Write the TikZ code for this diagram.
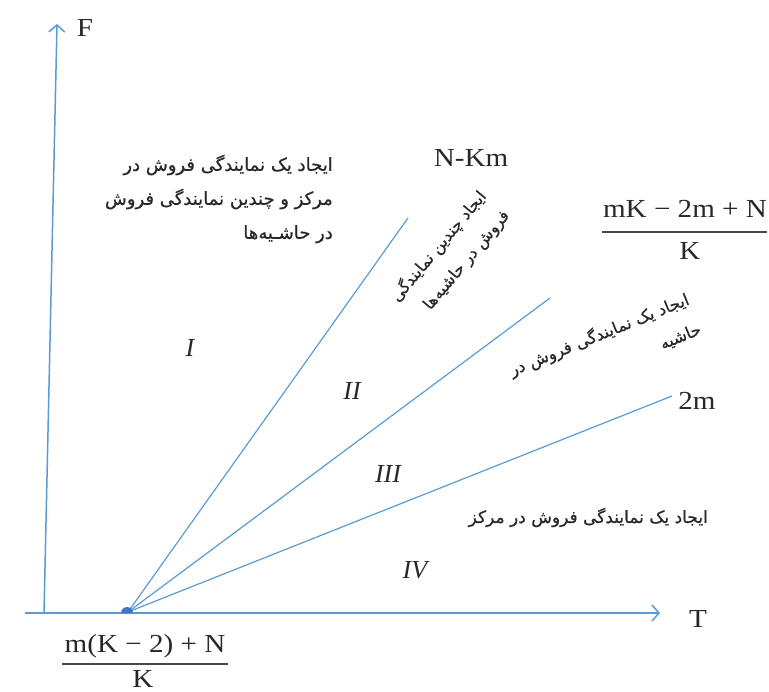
\documentclass[tikz,border=0pt]{standalone}
\usepackage{fontspec}
\setmainfont{Liberation Serif}
\newfontfamily\cam[FakeStretch=1.12]{Liberation Serif}
\newfontfamily\fa[Script=Arabic,FakeBold=0.6]{DejaVu Sans}
\TeXXeTstate=1
\usetikzlibrary{arrows.meta}
\definecolor{ax}{RGB}{91,155,213}
\definecolor{dot}{RGB}{68,114,196}
\definecolor{ink}{RGB}{40,40,40}
\tikzset{
 axis/.style={draw=ax, line width=1.5pt, -{Straight Barb[length=7pt,width=16pt,line width=1.5pt]}},
 ray/.style={draw=ax, line width=1.2pt},
 lat/.style={font=\cam\fontsize{26}{30}\selectfont, text=ink, inner sep=0pt, anchor=base},
 rom/.style={font=\fontsize{26}{30}\selectfont\itshape, text=ink, inner sep=0pt, anchor=base},
 fa/.style={font=\fa\fontsize{18}{34}\selectfont, text=ink, inner sep=0pt, align=right},
 fbar/.style={draw=ink!85, line width=2.5pt},
}
\begin{document}
\begin{tikzpicture}[x=1pt,y=-1pt]
\useasboundingbox (0,0) rectangle (769,692);
% axes
\coordinate (Fb) at (44,613);
\coordinate (Ft) at (57,24);
\coordinate (Tl) at (25,613);
\coordinate (Tr) at (660,613);
\draw[axis] (Tl) -- (Tr);
\draw[axis] (Fb) -- (Ft);
% rays
\coordinate (O) at (128,612);
\coordinate (E1) at (408,218);
\coordinate (E2) at (550,298);
\coordinate (E3) at (672,396);
\draw[ray] (O) -- (E1);
\draw[ray] (O) -- (E2);
\draw[ray] (O) -- (E3);
\fill[dot] (121,613) arc[start angle=180,end angle=360,radius=6] -- cycle;
% axis labels
\node[lat] (F) at (85,37) {F};
\node[lat] (T) at (698,627) {T};
\node[lat] (nkm) at (471,167) {N-Km};
\node[lat] (twom) at (697,410) {2m};
% right fraction
\node[lat] (rnum) at (685,218) {mK − 2m + N};
\draw[fbar] (602,232) -- (767,232);
\node[lat] (rden) at (690,260) {K};
% bottom fraction
\node[lat] (bnum) at (145,652) {m(K − 2) + N};
\draw[fbar] (62,664) -- (228,664);
\node[lat] (bden) at (143,687) {K};
% regions
\node[rom] (r1) at (190,357) {I};
\node[rom] (r2) at (352,400) {II};
\node[rom] (r3) at (388,483) {III};
\node[rom] (r4) at (415,579) {IV};
% persian texts
\node[fa, anchor=east] (t1) at (333,199) {\beginR ایجاد یک نمایندگی فروش در\endR\\ \beginR مرکز و چندین نمایندگی فروش\endR\\ \beginR در حاشـیه‌ها\endR};
\node[fa, font=\fa\fontsize{16}{30}\selectfont, rotate=50] (t2) at (450,256) {\beginR ایجاد چندین نمایندگی\endR\\ \beginR فروش در حاشیه‌ها\endR};
\node[fa, font=\fa\fontsize{16.5}{32}\selectfont, rotate=22] (t3) at (605,349) {\beginR ایجاد یک نمایندگی فروش در\endR\\ \beginR حاشیه\endR};
\node[fa, font=\fa\fontsize{17}{34}\selectfont, anchor=base east] (t4) at (708,523) {\beginR ایجاد یک نمایندگی فروش در مرکز\endR};
\end{tikzpicture}
\end{document}
